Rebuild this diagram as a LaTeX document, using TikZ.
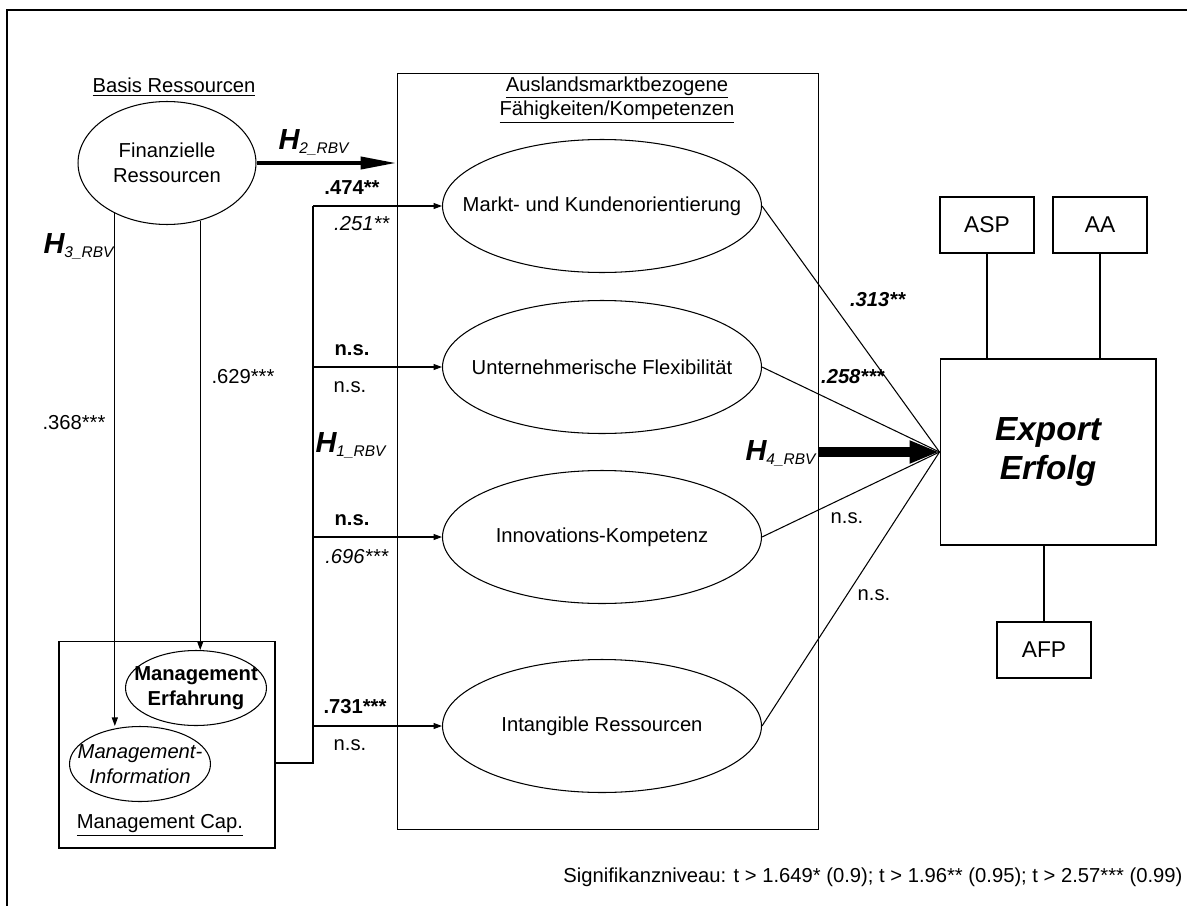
\documentclass[tikz,border=0pt]{standalone}
\usepackage{fontspec}
\setmainfont{Liberation Sans}
\usetikzlibrary{shapes.geometric}
\usetikzlibrary{arrows.meta}
\newcommand{\basefont}{\fontsize{11.5}{14}\selectfont}
\newcommand{\hyp}[1]{{\fontsize{16.5}{16}\selectfont\bfseries\itshape H}\raisebox{-2.5pt}{\fontsize{8.8}{10}\selectfont\itshape #1\_RBV}}

\begin{document}
\begin{tikzpicture}[x=.02cm, y=-.02cm, font=\basefont, line width=.6pt,
  oval/.style={draw, ellipse, inner ysep=0, inner xsep=-.6cm, minimum width=6.38cm, minimum height=2.66cm},
  small oval/.style={draw, ellipse, inner ysep=0, inner xsep=-.3cm, minimum width=2.82cm, minimum height=1.5cm, align=center},
  smallbox/.style={draw, minimum width=1.88cm, minimum height=1.12cm, font=\fontsize{13}{15}\selectfont},
  thin arrow/.style={-{Triangle[length=.17cm, width=.12cm]}}]
\useasboundingbox (0,0) rectangle (1187,906);
\draw[line width=1.2pt] (7,906) -- (7,10) -- (1187,10);

% Basis Ressourcen
\node (basis) at (174,87) {\underline{Basis Ressourcen}};
\node[draw, ellipse, inner sep=0, minimum width=3.56cm, minimum height=2.46cm, align=center] (fin) at (167,163) {Finanzielle\\Ressourcen};

% Management Cap.
\node[draw, minimum width=4.32cm, minimum height=4.14cm] (mc) at (167,744.5) {};
\node[small oval, font=\basefont\bfseries] (me) at (196,688) {Management\\Erfahrung};
\node[small oval, font=\basefont\itshape] (mi) at (140,764) {Management-\\Information};
\node (mctitle) at (160,825) {\underline{Management Cap.}};

% Faehigkeiten
\node[draw, minimum width=8.44cm, minimum height=15.14cm] (kb) at (608,451.5) {};
\node[align=center] (kbtitle) at (617,100) {\underline{Auslandsmarktbezogene}\\\underline{Fähigkeiten/Kompetenzen}};
\foreach \n/\y/\t in {mko/206/Markt- und Kundenorientierung, uf/367/Unternehmerische Flexibilität, ik/537/Innovations-Kompetenz, ir/726/Intangible Ressourcen}
  \node[oval] (\n) at (602,\y) {\t};

% Export Erfolg
\node[draw, minimum width=4.32cm, minimum height=3.72cm, align=center, font=\fontsize{19}{22}\selectfont\bfseries\itshape] (exp) at (1048,452) {Export\\Erfolg};
\node[smallbox] (asp) at (987,225) {ASP};
\node[smallbox] (aa) at (1100,225) {AA};
\node[smallbox] (afp) at (1044,650) {AFP};
\draw (asp.south) -- (asp.south |- exp.north);
\draw (aa.south) -- (aa.south |- exp.north);
\draw (afp.north) -- (afp.north |- exp.south);

% Pfade
\draw[thin arrow] (fin.224) -- (fin.224 |- mi.north);
\draw[thin arrow] (fin.300) -- (fin.300 |- me.north);
\draw[line width=.08cm, -{Triangle[length=.72cm, width=.24cm]}] (fin.east) -- (fin.east -| kb.west);
\coordinate (bus) at (313,763);
\draw (mc.east |- bus) -- (bus) -- (bus |- mko.west);
\foreach \n in {mko,uf,ik,ir}
  \draw[thin arrow] (bus |- \n.west) -- (\n.west);
\foreach \n in {mko,uf,ik,ir}
  \draw (\n.east) -- (exp.west);
\draw[line width=.2cm, -{Triangle[length=.6cm, width=.42cm]}] (kb.east |- exp.west) -- (exp.west);

% Hypothesen
\node[anchor=base west, inner sep=0] (h1) at (315,452) {\hyp{1}};
\node[anchor=base west, inner sep=0] (h2) at (278,149) {\hyp{2}};
\node[anchor=base west, inner sep=0] (h3) at (43,253) {\hyp{3}};
\node[anchor=base west, inner sep=0] (h4) at (745,460) {\hyp{4}};

% Koeffizienten
\node (v474) at (352,188) {\textbf{.474**}};
\node (v251) at (362,224) {\textit{.251**}};
\node (ns1b) at (352,350) {\textbf{n.s.}};
\node (ns1) at (350,387) {n.s.};
\node (ns2b) at (352,520) {\textbf{n.s.}};
\node (v696) at (357,557) {\textit{.696***}};
\node (v731) at (355,707) {\textbf{.731***}};
\node (ns3) at (350,745) {n.s.};
\node (v368) at (74,423) {.368***};
\node (v629) at (243,377) {.629***};
\node (v313) at (878,300) {\textbf{\textit{.313**}}};
\node (v258) at (853,377) {\textbf{\textit{.258***}}};
\node (ns4) at (847,518) {n.s.};
\node (ns5) at (874,595) {n.s.};

\node[anchor=east, inner sep=0] (sig) at (1183,877) {Signifikanzniveau: t > 1.649* (0.9); t > 1.96** (0.95); t > 2.57*** (0.99)};
\end{tikzpicture}
\end{document}
